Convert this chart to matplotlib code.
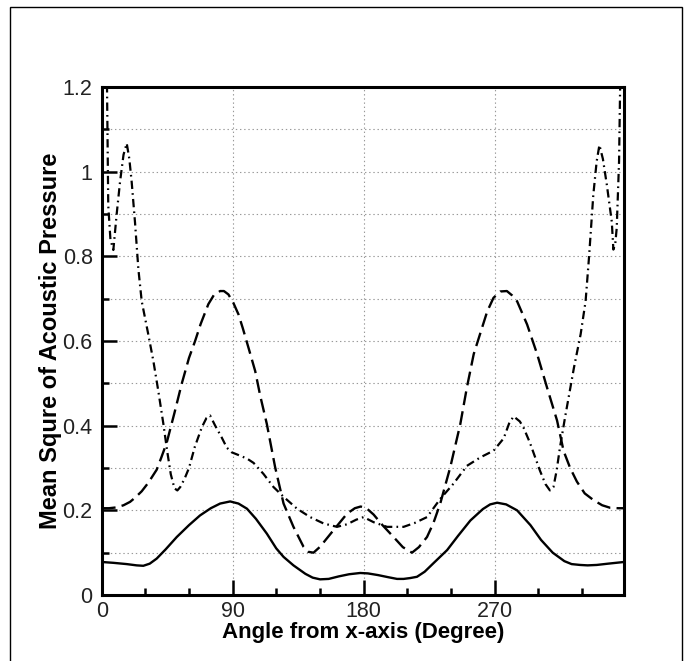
import matplotlib
matplotlib.use("Agg")
import matplotlib.pyplot as plt
from matplotlib.ticker import MultipleLocator, FixedLocator, FuncFormatter
from matplotlib.patches import Rectangle

plt.rcParams['font.family'] = ['Liberation Sans', 'DejaVu Sans']
plt.rcParams['lines.scale_dashes'] = False

# Solid curve
angle_solid = [0, 8, 17.2, 24, 28.6, 33, 37.8, 44, 51.6, 60, 67.6, 75, 81.4, 88.3, 94,
               99.8, 106, 113.5, 120, 125, 131.8, 140, 145, 150.1, 156, 163, 170, 177.7,
               183, 190, 197, 203, 207.5, 212, 216.7, 222, 228, 237.4, 245, 253.4, 262,
               267, 271.8, 278, 285.5, 294.7, 302, 310, 318, 323, 328.8, 334, 340.3, 348, 359]
msp_solid = [0.078, 0.076, 0.073, 0.070, 0.069, 0.074, 0.086, 0.108, 0.137, 0.165, 0.188,
             0.205, 0.216, 0.221, 0.216, 0.204, 0.180, 0.145, 0.110, 0.090, 0.070, 0.050,
             0.041, 0.037, 0.038, 0.044, 0.049, 0.052, 0.051, 0.047, 0.042, 0.038, 0.038,
             0.040, 0.043, 0.055, 0.075, 0.106, 0.140, 0.176, 0.203, 0.214, 0.218, 0.214,
             0.200, 0.165, 0.130, 0.100, 0.080, 0.073, 0.071, 0.070, 0.071, 0.074, 0.078]

# Dashed curve
angle_dashed = [0, 5, 10.3, 15, 19.5, 23, 27.5, 32, 37.8, 41, 44.7, 50, 55, 60, 64.2, 68,
                73.3, 77, 81.4, 84, 87.1, 90.5, 94, 97, 100.9, 105.5, 109, 113.5, 119.2,
                125, 131.8, 138.7, 142, 145.6, 150.1, 159.3, 168.6, 174, 178, 182, 186.9,
                193, 200.6, 207, 213.3, 218, 223.6, 228, 232.7, 239.6, 246.5, 251, 255.7,
                261.4, 265, 269.3, 274, 278.5, 282, 285.5, 292.4, 299.3, 306.1, 313, 317.5,
                322, 326.6, 332, 338.1, 344, 349.5, 355, 359]
msp_dashed = [0.205, 0.205, 0.207, 0.212, 0.220, 0.230, 0.245, 0.265, 0.296, 0.325, 0.360,
              0.430, 0.499, 0.560, 0.600, 0.640, 0.687, 0.708, 0.718, 0.718, 0.710, 0.690,
              0.663, 0.630, 0.584, 0.529, 0.470, 0.404, 0.302, 0.216, 0.161, 0.114, 0.102,
              0.100, 0.114, 0.153, 0.192, 0.205, 0.209, 0.205, 0.190, 0.165, 0.137, 0.113,
              0.100, 0.113, 0.137, 0.170, 0.216, 0.302, 0.404, 0.490, 0.569, 0.631, 0.670,
              0.702, 0.717, 0.718, 0.708, 0.694, 0.639, 0.569, 0.490, 0.412, 0.340, 0.300,
              0.268, 0.240, 0.224, 0.212, 0.206, 0.205, 0.205]

# Dash-dot curve
angle_dashdot = [3.5, 4.5, 6, 8, 10.3, 12.6, 15, 17.2, 19, 20.6, 22.9, 25.2, 27.5, 32, 35.5,
                 38.9, 42.4, 45, 47.5, 50, 52, 54, 57, 60, 64, 68.8, 72, 74.5, 78, 82.5, 86,
                 89.4, 95.2, 100, 104.4, 111.2, 118.1, 125, 134.2, 143.3, 152.5, 161.7,
                 168.6, 175, 180, 186.9, 196.1, 207.5, 215, 223.6, 232.7, 241.8, 251, 260.2,
                 269.4, 276.3, 280, 283.1, 287.4, 290, 294.3, 301.2, 305, 308.1, 310.5,
                 312.7, 315, 318.5, 324.6, 329.2, 332.6, 335, 337.9, 340.2, 342.1, 344.5,
                 347.2, 350.6, 351.7, 353, 354, 355.6, 356.3, 356.8]
msp_dashdot = [1.25, 0.92, 0.84, 0.815, 0.90, 0.976, 1.04, 1.067, 1.03, 0.976, 0.88, 0.77,
               0.694, 0.616, 0.553, 0.482, 0.404, 0.34, 0.285, 0.252, 0.247, 0.255, 0.275,
               0.300, 0.350, 0.396, 0.418, 0.424, 0.400, 0.372, 0.348, 0.337, 0.329, 0.322,
               0.312, 0.286, 0.255, 0.232, 0.204, 0.184, 0.169, 0.161, 0.167, 0.178, 0.184,
               0.172, 0.161, 0.161, 0.170, 0.184, 0.227, 0.263, 0.305, 0.325, 0.341, 0.370,
               0.405, 0.422, 0.410, 0.395, 0.360, 0.294, 0.262, 0.247, 0.255, 0.294, 0.349,
               0.420, 0.537, 0.616, 0.694, 0.800, 0.945, 1.024, 1.063, 1.030, 0.969, 0.882,
               0.816, 0.830, 0.867, 1.024, 1.19, 1.30]

x_major = [0, 90, 180, 270]
x_tick_labels = ['0', '90', '180', '270']
x_label = 'Angle from x-axis (Degree)'
y_label = 'Mean Squre of Acoustic Pressure'

fig = plt.figure(figsize=(6.92, 6.61), dpi=100)
fig.patches.append(Rectangle((10 / 692, -0.01), (682 - 10) / 692, (661 - 7) / 661 + 0.01,
                             transform=fig.transFigure, fill=False, lw=1.0,
                             edgecolor='black', zorder=0))

ax = fig.add_axes([101.7 / 692, 66 / 661, 522.3 / 692, 508 / 661])

ax.plot(angle_solid, msp_solid, color='black', lw=1.7, solid_joinstyle='round', zorder=3)
ax.plot(angle_dashed, msp_dashed, color='black', lw=1.7, dashes=(10, 4.5), zorder=3)
ax.plot(angle_dashdot, msp_dashdot, color='black', lw=1.6, dashes=(6, 3, 1.2, 3), zorder=3)

ax.set_xlim(0, 359)
ax.set_ylim(0, 1.2)

ax.xaxis.set_major_locator(FixedLocator(x_major))
ax.set_xticklabels(x_tick_labels)
ax.xaxis.set_minor_locator(MultipleLocator(30))
ax.yaxis.set_major_locator(MultipleLocator(0.2))
ax.yaxis.set_minor_locator(MultipleLocator(0.1))
ax.yaxis.set_major_formatter(FuncFormatter(lambda v, p: ('%.1f' % v).rstrip('0').rstrip('.') if v else '0'))

ax.tick_params(which='both', direction='in', top=False, right=False, colors='black',
               labelsize=15.5, width=1.8)
ax.tick_params(which='major', length=11)
ax.tick_params(axis='x', which='major', pad=4)
ax.tick_params(axis='y', which='major', pad=6.5)
ax.tick_params(which='minor', length=5)
for lbl in ax.get_xticklabels() + ax.get_yticklabels():
    lbl.set_color('#222222')

ax.grid(True, which='major', axis='x', linestyle=(0, (1, 2)), color='#999999', lw=0.8)
ax.grid(True, which='both', axis='y', linestyle=(0, (1, 2)), color='#999999', lw=0.8)

for s in ax.spines.values():
    s.set_linewidth(2.2)

ax.set_xlabel(x_label, fontsize=16, fontweight='bold', labelpad=0)
ax.set_ylabel(y_label, fontsize=17, fontweight='bold')
ax.yaxis.set_label_coords(-0.076, 0.5)

fig.savefig('out.png', dpi=100)
